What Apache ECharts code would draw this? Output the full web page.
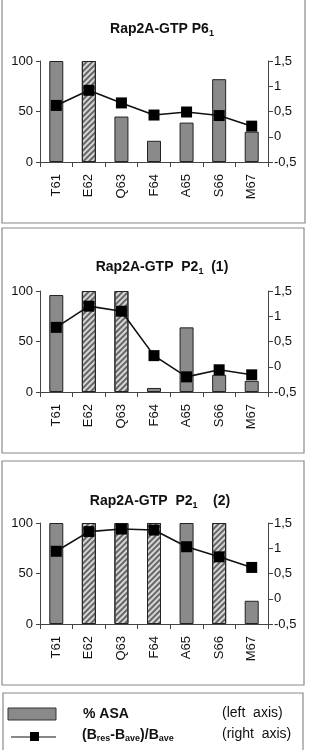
<!DOCTYPE html>
<html>
<head>
<meta charset="utf-8">
<script src="https://cdn.jsdelivr.net/npm/echarts@6/dist/echarts.min.js"></script>
<style>
  html, body { margin: 0; padding: 0; background: #fff; }
  #chart { width: 309px; height: 750px; }
</style>
</head>
<body>
<div id="chart"></div>
<script>
// residues (category axis)
const residues = ['T61', 'E62', 'Q63', 'F64', 'A65', 'S66', 'M67'];

// panel 1: Rap2A-GTP P6_1
const asaP61 = [100, 100, 45, 21, 39, 82, 30];
const hatchP61 = [0, 1, 0, 0, 0, 0, 0];
const bfacP61 = [0.62, 0.92, 0.67, 0.43, 0.49, 0.42, 0.21];

// panel 2: Rap2A-GTP P2_1 (1)
const asaP21a = [96, 100, 100, 4, 64, 17, 11];
const hatchP21a = [0, 1, 1, 0, 0, 0, 0];
const bfacP21a = [0.78, 1.2, 1.1, 0.22, -0.2, -0.06, -0.16];

// panel 3: Rap2A-GTP P2_1 (2)
const asaP21b = [100, 100, 100, 100, 100, 100, 23];
const hatchP21b = [0, 1, 1, 1, 0, 1, 0];
const bfacP21b = [0.94, 1.33, 1.38, 1.36, 1.03, 0.83, 0.62];

// axis ticks
const leftTicks = { min: 0, max: 100, interval: 50 };
const rightTicks = { min: -0.5, max: 1.5, interval: 0.5 };

const panels = [
  { title: '{a|Rap2A-GTP P6}{s|1}', asa: asaP61, hatch: hatchP61, bfac: bfacP61, top: 61, titleTop: 16, titleX: 157, box: [2, -1, 303, 224] },
  { title: '{a|Rap2A-GTP  P2}{s|1}{a|  (1)}', asa: asaP21a, hatch: hatchP21a, bfac: bfacP21a, top: 291, titleTop: 254, titleX: 157, box: [2, 228, 302, 225] },
  { title: '{a|Rap2A-GTP  P2}{s|1}{a|    (2)}', asa: asaP21b, hatch: hatchP21b, bfac: bfacP21b, top: 523, titleTop: 488, titleX: 155, box: [2, 461, 302, 224] }
];

const fontFam = '"Liberation Sans", Arial, sans-serif';
const axisColor = '#444';

const titleRich = {
  a: { fontSize: 14, fontWeight: 'bold', color: '#111', fontFamily: fontFam, lineHeight: 17 },
  s: { fontSize: 9, fontWeight: 'bold', color: '#111', fontFamily: fontFam, lineHeight: 9, verticalAlign: 'bottom' }
};

const hatchDecal = {
  symbol: 'rect',
  symbolSize: 1,
  dashArrayX: [1, 0],
  dashArrayY: [1.2, 2],
  rotation: -Math.PI / 4,
  color: '#666'
};

const commaFmt = (v) => String(v).replace('.', ',');

const chart = echarts.init(document.getElementById('chart'), null, { renderer: 'canvas' });

const option = {
  backgroundColor: '#fff',
  animation: false,
  title: [],
  grid: [],
  xAxis: [],
  yAxis: [],
  series: [],
  graphic: []
};

panels.forEach((p, i) => {
  option.title.push({
    text: p.title,
    left: p.titleX,
    top: p.titleTop,
    textAlign: 'center',
    textStyle: { rich: titleRich }
  });
  option.grid.push({ left: 40, right: 41, top: p.top, height: 101 });
  option.xAxis.push({
    type: 'category',
    gridIndex: i,
    data: residues,
    boundaryGap: true,
    axisLine: { lineStyle: { color: axisColor, width: 1 } },
    axisTick: { show: true, length: 5, lineStyle: { color: axisColor } },
    axisLabel: { rotate: 90, margin: 12, fontSize: 13, color: '#111', fontFamily: fontFam },
    splitLine: { show: false }
  });
  option.yAxis.push({
    type: 'value',
    gridIndex: i,
    position: 'left',
    min: leftTicks.min, max: leftTicks.max, interval: leftTicks.interval,
    axisLine: { show: true, lineStyle: { color: axisColor, width: 1 } },
    axisTick: { show: true, length: 4, lineStyle: { color: axisColor } },
    axisLabel: { fontSize: 13, color: '#111', margin: 7, fontFamily: fontFam },
    splitLine: { show: false }
  });
  option.yAxis.push({
    type: 'value',
    gridIndex: i,
    position: 'right',
    min: rightTicks.min, max: rightTicks.max, interval: rightTicks.interval,
    axisLine: { show: true, lineStyle: { color: axisColor, width: 1 } },
    axisTick: { show: true, length: 5, lineStyle: { color: axisColor } },
    axisLabel: { fontSize: 13, color: '#111', margin: 6, fontFamily: fontFam, formatter: commaFmt },
    splitLine: { show: false }
  });
  option.series.push({
    type: 'bar',
    name: '% ASA',
    xAxisIndex: i,
    yAxisIndex: i * 2,
    barWidth: 14,
    data: p.asa.map((v, k) => p.hatch[k]
      ? { value: v, itemStyle: { color: '#d6d6d6', decal: hatchDecal } }
      : { value: v }),
    itemStyle: { color: '#8a8a8a', borderColor: '#222', borderWidth: 1 }
  });
  option.series.push({
    type: 'line',
    name: 'B',
    xAxisIndex: i,
    yAxisIndex: i * 2 + 1,
    data: p.bfac,
    symbol: 'rect',
    symbolSize: 11,
    z: 5,
    lineStyle: { color: '#111', width: 1.6 },
    itemStyle: { color: '#000' }
  });
  option.graphic.push({
    type: 'rect',
    shape: { x: p.box[0], y: p.box[1], width: p.box[2], height: p.box[3] },
    style: { fill: 'none', stroke: '#8a8a8a', lineWidth: 1.2 },
    z: -1, silent: true
  });
});

// legend box
const legendRich = {
  b: { fontSize: 14, fontWeight: 'bold', fill: '#111', fontFamily: fontFam, lineHeight: 17 },
  s: { fontSize: 9, fontWeight: 'bold', fill: '#111', fontFamily: fontFam, lineHeight: 9, verticalAlign: 'bottom' }
};
option.graphic.push(
  { type: 'rect', shape: { x: 3, y: 693, width: 300, height: 70 }, style: { fill: 'none', stroke: '#8a8a8a', lineWidth: 1.2 }, silent: true },
  { type: 'rect', shape: { x: 8, y: 708, width: 48, height: 12 }, style: { fill: '#8a8a8a', stroke: '#333', lineWidth: 1 }, silent: true },
  { type: 'line', shape: { x1: 11, y1: 737, x2: 56, y2: 737 }, style: { stroke: '#111', lineWidth: 1.2 }, silent: true },
  { type: 'rect', shape: { x: 30, y: 732, width: 9, height: 9 }, style: { fill: '#000' }, silent: true },
  { type: 'text', x: 83, y: 714, style: { text: '{b|% ASA}', rich: legendRich, verticalAlign: 'middle' }, silent: true },
  { type: 'text', x: 82, y: 735, style: { text: '{b|(B}{s|res}{b|-B}{s|ave}{b|)/B}{s|ave}', rich: legendRich, verticalAlign: 'middle' }, silent: true },
  { type: 'text', x: 222, y: 713, style: { text: '(left  axis)', font: '14px ' + fontFam, fill: '#111', verticalAlign: 'middle' }, silent: true },
  { type: 'text', x: 222, y: 734, style: { text: '(right  axis)', font: '14px ' + fontFam, fill: '#111', verticalAlign: 'middle' }, silent: true }
);

chart.setOption(option);
</script>
</body>
</html>
